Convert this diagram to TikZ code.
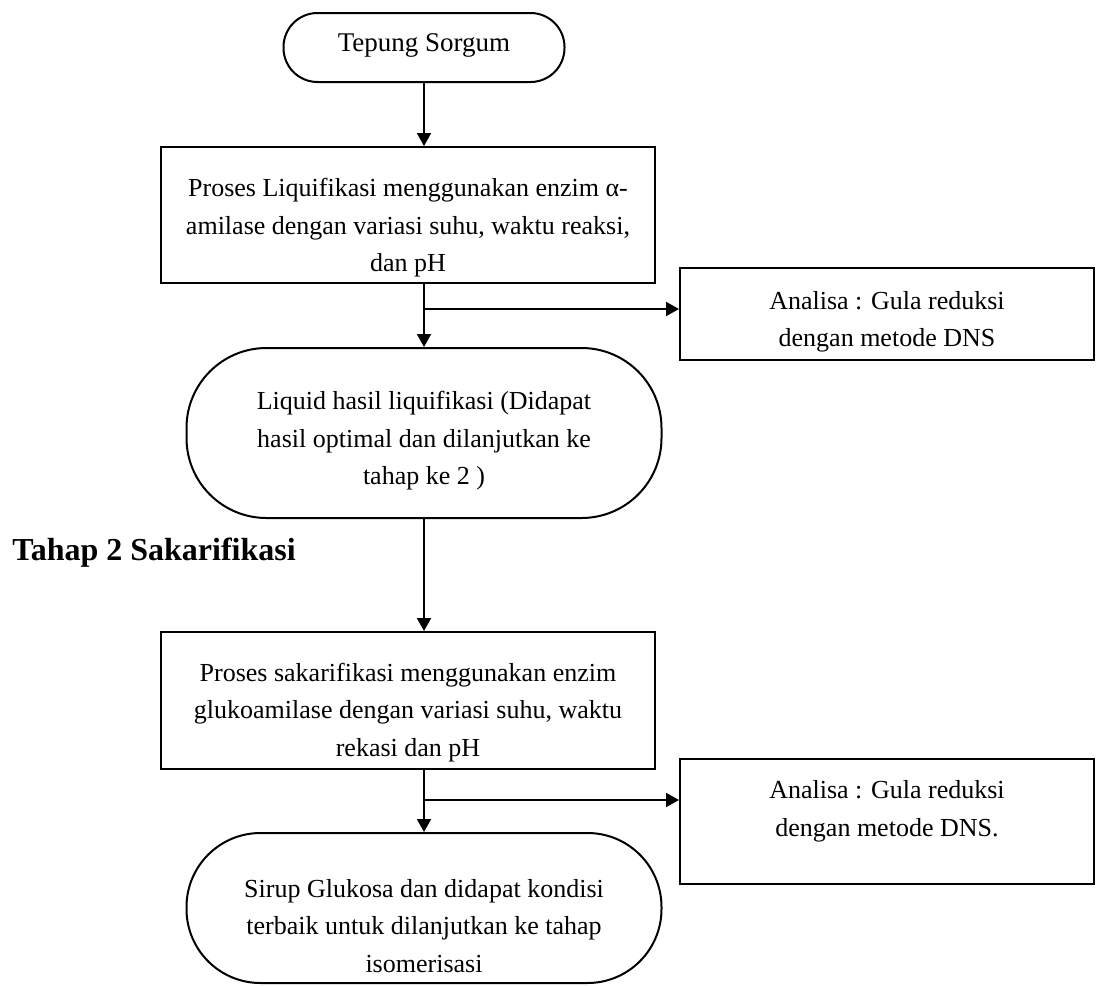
\documentclass[tikz,border=0pt]{standalone}
\usepackage{fontspec}
\setmainfont{Liberation Serif}
\usetikzlibrary{arrows.meta}
\begin{document}
\begin{tikzpicture}[x=0.5pt,y=-0.5pt,
  shape box/.style={draw, line width=1pt, inner sep=0pt},
  procbox/.style={shape box, rectangle},
  term/.style={shape box, rectangle},
  txt/.style={align=center, inner sep=0pt, font=\fontsize{13}{18.75}\selectfont},
  arr/.style={line width=1pt, -{Triangle[length=6.5pt,width=7pt]}},
  heading/.style={font=\fontsize{16}{19}\selectfont\bfseries, inner sep=0pt, anchor=west}]
\useasboundingbox (0,0) rectangle (1096,985);

\node[term, rounded corners=17pt, minimum width=140.5pt, minimum height=34.5pt] (ts) at (424,47.5) {};
\node[txt, font=\fontsize{13.5}{18.75}\selectfont] (tst) at ([yshift=1pt]ts.center) {Tepung Sorgum};

\node[procbox, minimum width=247pt, minimum height=68pt] (b1) at (408,215) {};
\node[txt] (b1t) at ([yshift=-6.5pt]b1.center)
  {Proses Liquifikasi menggunakan enzim α-\\amilase dengan variasi suhu, waktu reaksi,\\dan pH};

\node[procbox, minimum width=207pt, minimum height=46pt] (a1) at (887,314) {};
\node[txt] (a1t) at ([yshift=-4pt]a1.center) {Analisa : Gula reduksi\\dengan metode DNS};

\node[term, rounded corners=40pt, minimum width=237.5pt, minimum height=85pt] (l2) at (424,433) {};
\node[txt] (l2t) at ([yshift=-4pt]l2.center)
  {Liquid hasil liquifikasi (Didapat\\hasil optimal dan dilanjutkan ke\\tahap ke 2 )};

\node[heading] (h2) at (12,553) {Tahap 2 Sakarifikasi};

\node[procbox, minimum width=247pt, minimum height=68.5pt] (b2) at (408,700.5) {};
\node[txt] (b2t) at ([yshift=-6pt]b2.center)
  {Proses sakarifikasi menggunakan enzim\\glukoamilase dengan variasi suhu, waktu\\rekasi dan pH};

\node[procbox, minimum width=207pt, minimum height=62.5pt] (a2) at (887,821.5) {};
\node[txt] (a2t) at ([yshift=5pt]a2.center) {Analisa : Gula reduksi\\dengan metode DNS.};

\node[term, rounded corners=37pt, minimum width=237.5pt, minimum height=75pt] (l3) at (424,908) {};
\node[txt] (l3t) at ([yshift=-9pt]l3.center)
  {Sirup Glukosa dan didapat kondisi\\terbaik untuk dilanjutkan ke tahap\\isomerisasi};

\coordinate (j1) at (424,309);
\coordinate (j2) at (424,800);

\draw[arr] (ts.south) -- (ts.south |- b1.north);
\draw[arr] (ts.south |- b1.south) -- (l2.north);
\draw[arr] (j1) -- (j1 -| a1.west);
\draw[arr] (l2.south) -- (l2.south |- b2.north);
\draw[arr] (l2.south |- b2.south) -- (l3.north);
\draw[arr] (j2) -- (j2 -| a2.west);
\end{tikzpicture}
\end{document}
